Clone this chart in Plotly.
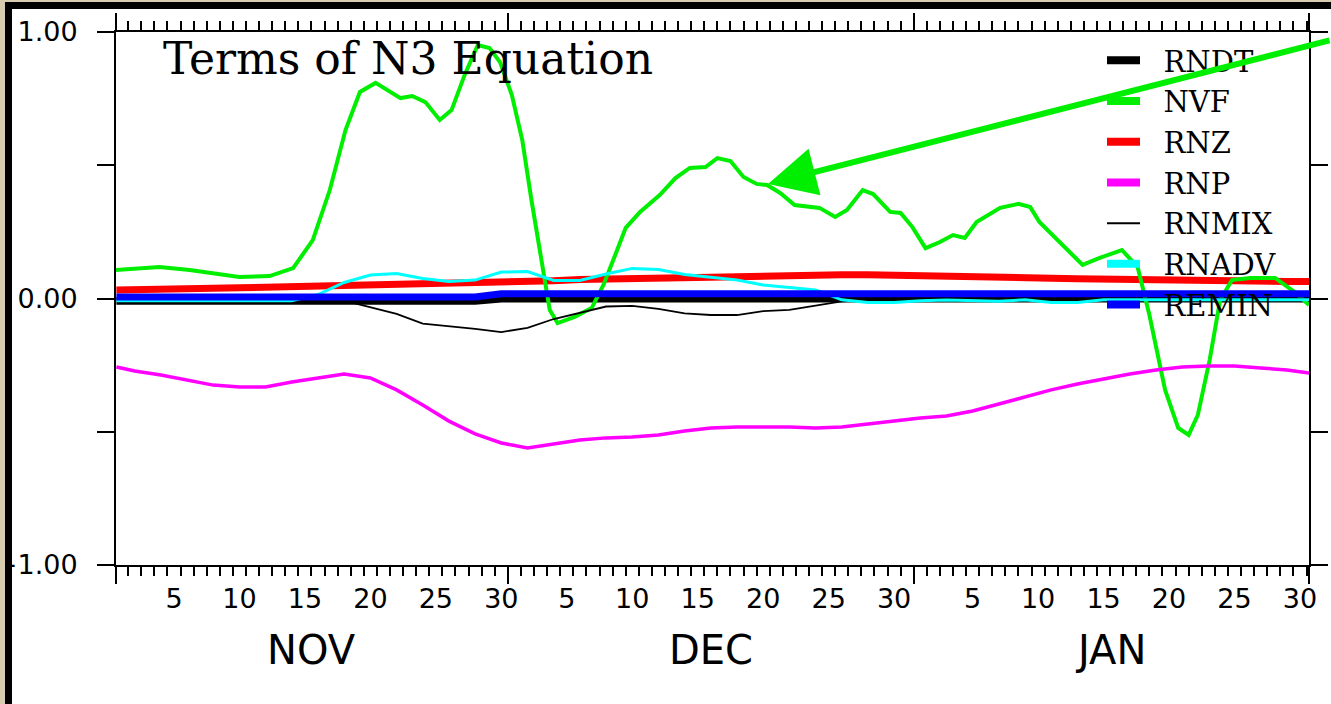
import plotly.graph_objects as go

W, H = 1331, 704
ML, MR, MT, MB = 116, 22, 32, 139
PW, PH = W - ML - MR, H - MT - MB

# ---------------- data ----------------
# day index: Nov 1 = 1, Dec 1 = 31, Jan 1 = 62
x_range = [0.57, 91.69]
days = [0.6] + list(range(2, 91, 2)) + [91.7]

nvf_days = [0.57, 3.9, 6.2, 10.0, 12.3, 14.1, 15.6, 16.9, 18.1, 19.2,
            20.4, 21.3, 22.3, 23.2, 24.2, 25.3, 26.2, 27.2, 28.2, 29.1,
            29.9, 30.8, 31.6, 32.3, 33.1, 33.7, 34.3, 35.6, 36.9, 37.8,
            38.7, 39.5, 40.6, 42.1, 43.3, 44.4, 45.6, 46.5, 47.5, 48.5,
            49.5, 50.3, 51.3, 52.4, 54.3, 55.5, 56.4, 57.6, 58.4, 59.7,
            60.5, 61.4, 62.4, 63.5, 64.5, 65.4, 66.3, 68.1, 69.5, 70.4,
            71.1, 72.7, 74.4, 75.7, 77.4, 78.6, 79.5, 80.7, 81.7, 82.5,
            83.2, 84.1, 84.9, 85.8, 87.2, 89.1, 90.6, 91.69]
nvf = [0.107, 0.118, 0.107, 0.081, 0.084, 0.114, 0.219, 0.407, 0.632, 0.775,
       0.809, 0.782, 0.752, 0.760, 0.737, 0.670, 0.707, 0.839, 0.951, 0.940,
       0.887, 0.764, 0.595, 0.370, 0.126, -0.043, -0.092, -0.069, -0.036, 0.051,
       0.163, 0.265, 0.325, 0.388, 0.452, 0.490, 0.493, 0.527, 0.516, 0.456,
       0.430, 0.426, 0.396, 0.351, 0.340, 0.306, 0.332, 0.407, 0.392, 0.325,
       0.321, 0.268, 0.189, 0.212, 0.238, 0.227, 0.287, 0.340, 0.355, 0.343,
       0.287, 0.208, 0.126, 0.152, 0.182, 0.118, -0.062, -0.343, -0.486, -0.512,
       -0.437, -0.231, -0.006, 0.069, 0.077, 0.077, 0.024, -0.024]

rndt = [-0.010] * 15 + [-0.002] * 32

rnz = [0.032, 0.032, 0.033, 0.035, 0.038, 0.040, 0.042, 0.044, 0.046, 0.047,
       0.048, 0.050, 0.052, 0.054, 0.056, 0.060, 0.064, 0.067, 0.071, 0.074,
       0.077, 0.078, 0.079, 0.080, 0.082, 0.085, 0.088, 0.089, 0.089, 0.089,
       0.088, 0.087, 0.085, 0.082, 0.080, 0.078, 0.076, 0.074, 0.072, 0.070,
       0.068, 0.067, 0.066, 0.065, 0.065, 0.064, 0.064]

rnp = [-0.257, -0.272, -0.287, -0.306, -0.325, -0.332, -0.332, -0.313, -0.298, -0.283,
       -0.298, -0.343, -0.400, -0.460, -0.508, -0.542, -0.561, -0.546, -0.531, -0.523,
       -0.520, -0.512, -0.497, -0.486, -0.482, -0.482, -0.482, -0.486, -0.482, -0.471,
       -0.460, -0.448, -0.441, -0.422, -0.396, -0.370, -0.343, -0.321, -0.302, -0.283,
       -0.268, -0.257, -0.253, -0.253, -0.261, -0.268, -0.280]

rnmix = [0.0, 0.0, 0.0, 0.0, 0.0, 0.0, 0.0, 0.0, 0.0, -0.008,
         -0.032, -0.058, -0.094, -0.103, -0.114, -0.126, -0.110, -0.077, -0.054, -0.030,
         -0.028, -0.039, -0.056, -0.062, -0.062, -0.047, -0.043, -0.028, -0.011, -0.006,
         0.0, 0.0, 0.0, 0.0, 0.0, 0.0, 0.0, 0.0, 0.0, 0.0,
         0.0, 0.0, 0.0, 0.0, 0.0, 0.0, 0.0]

rnadv = [-0.008, -0.008, -0.008, -0.008, -0.008, -0.008, -0.008, -0.008, 0.015, 0.060,
         0.088, 0.094, 0.075, 0.064, 0.069, 0.099, 0.101, 0.068, 0.068, 0.092,
         0.113, 0.109, 0.090, 0.079, 0.069, 0.051, 0.041, 0.032, -0.005, -0.015,
         -0.015, -0.008, -0.006, -0.008, -0.010, -0.005, -0.015, -0.015, -0.005, -0.005,
         -0.005, -0.005, -0.005, -0.005, -0.005, -0.005, -0.005]

remin = [0.006] * 15 + [0.018] * 32

series_names = ["RNDT", "NVF", "RNZ", "RNP", "RNMIX", "RNADV", "REMIN"]
series_colors = ["#000000", "#00ee00", "#ff0000", "#ff00ff", "#000000", "#00ffff", "#0000ff"]
plot_widths = [7, 4, 7, 3.5, 1.8, 3, 7]
legend_widths = [8, 8, 8, 8, 2, 8, 8]

day_label_pos = [5, 10, 15, 20, 25, 30, 35, 40, 45, 50, 55, 60, 66, 71, 76, 81, 86, 91]
day_label_txt = ["5", "10", "15", "20", "25", "30"] * 3
month_names = ["NOV", "DEC", "JAN"]
month_mid = [15.5, 46, 76.5]
month_edges = [0.58, 30.5, 61.5, 91.68]
day_edges = [d + 0.5 for d in range(1, 92)]

y_ticks = [-1, -0.5, 0, 0.5, 1]
y_ticktext = ["\u22121.00", "", "0.00", "", "1.00"]

# ---------------- figure ----------------
def px_x(p):
    return (p - ML) / PW


def px_y(p):
    return (H - MB - p) / PH


fig = go.Figure()

ydata = {"RNDT": (days, rndt), "NVF": (nvf_days, nvf), "RNZ": (days, rnz),
         "RNP": (days, rnp), "RNMIX": (days, rnmix), "RNADV": (days, rnadv),
         "REMIN": (days, remin)}
draw_order = ["RNDT", "RNZ", "NVF", "RNP", "RNMIX", "RNADV", "REMIN"]
for nm in draw_order:
    i = series_names.index(nm)
    xs, ys = ydata[nm]
    fig.add_trace(go.Scatter(x=xs, y=ys, mode="lines", name=nm,
                             line=dict(color=series_colors[i], width=plot_widths[i]),
                             showlegend=False, hoverinfo="skip"))

# legend entries (thicker samples as in the original)
for nm, c, w in zip(series_names, series_colors, legend_widths):
    fig.add_trace(go.Scatter(x=[None], y=[None], mode="lines",
                             name="\u00a0\u00a0" + nm,
                             line=dict(color=c, width=w), showlegend=True))

# invisible trace on the label axis
fig.add_trace(go.Scatter(x=[None], y=[None], xaxis="x2", showlegend=False))

fig.update_layout(
    width=W, height=H,
    margin=dict(l=ML, r=MR, t=MT, b=MB, pad=0, autoexpand=False),
    paper_bgcolor="white", plot_bgcolor="white",
    showlegend=True,
    legend=dict(x=px_x(1102), y=px_y(35), xanchor="left", yanchor="top",
                bgcolor="rgba(0,0,0,0)", borderwidth=0,
                font=dict(family="DejaVu Serif", size=29, color="black"),
                itemwidth=33, traceorder="normal"),
    xaxis=dict(range=x_range, tickmode="array", tickvals=month_edges,
               ticks="outside", ticklen=17, tickwidth=2, tickcolor="black",
               showticklabels=False, showline=True, linewidth=2, linecolor="black",
               mirror="ticks", showgrid=False, zeroline=False, automargin=False,
               minor=dict(tickmode="array", tickvals=day_edges, ticks="outside",
                          ticklen=9, tickwidth=2, tickcolor="black", showgrid=False)),
    xaxis2=dict(range=x_range, overlaying="x", anchor="y", side="bottom",
                tickmode="array", tickvals=day_label_pos, ticktext=day_label_txt,
                ticks="", showline=False, showgrid=False, zeroline=False,
                ticklabelstandoff=15, automargin=False,
                tickfont=dict(family="DejaVu Sans", size=27, color="black")),
    yaxis=dict(range=[-1, 1], tickmode="array", tickvals=y_ticks, ticktext=y_ticktext,
               ticks="outside", ticklen=17, tickwidth=2, tickcolor="black",
               showline=True, linewidth=2, linecolor="black", mirror="ticks",
               showgrid=False, zeroline=False, ticklabelstandoff=14, automargin=False,
               tickfont=dict(family="DejaVu Sans", size=27, color="black")),
)

for nm, mx in zip(month_names, month_mid):
    fig.add_annotation(x=mx, y=px_y(650), xref="x", yref="paper", text=nm,
                       showarrow=False, xanchor="center", yanchor="middle",
                       font=dict(family="DejaVu Sans", size=40, color="black"))

fig.add_annotation(x=px_x(161), y=px_y(59), xref="paper", yref="paper",
                   text="Terms of N3 Equation", showarrow=False,
                   xanchor="left", yanchor="middle",
                   font=dict(family="DejaVu Serif", size=44, color="black"))

# arrow pointing at the NVF curve
fig.add_annotation(x=px_x(768), y=px_y(184), xref="paper", yref="paper",
                   text="", showarrow=True, axref="pixel", ayref="pixel",
                   ax=577, ay=-144, arrowhead=2, arrowsize=1.6, arrowwidth=6,
                   arrowcolor="#00ee00", standoff=0)

# outer frame: tan texture strip + black border (left and top)
tan, blk = "#d8ccb0", "#000000"
frame = [((0, 5), (0, H), tan), ((0, W), (0, 2), tan),
         ((5, 12), (2, H), blk), ((5, W), (2, 9), blk)]
for (x0, x1), (y0, y1), col in frame:
    fig.add_shape(type="rect", xref="paper", yref="paper",
                  x0=px_x(x0), x1=px_x(x1), y0=px_y(y1), y1=px_y(y0),
                  fillcolor=col, line=dict(width=0), layer="above")

fig.write_html("out.html")
